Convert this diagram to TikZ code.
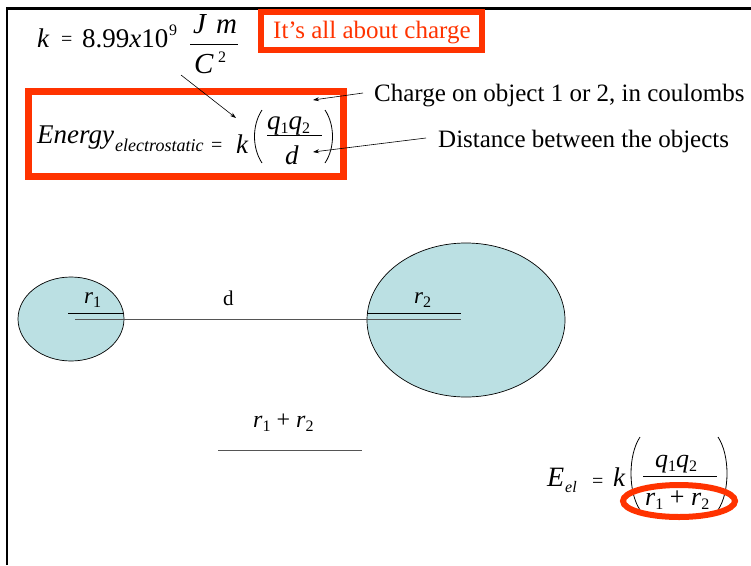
\documentclass[tikz,border=0pt]{standalone}
\usepackage{fontspec}
\setmainfont{Liberation Serif}
\usetikzlibrary{arrows.meta,shapes.geometric}
\definecolor{hot}{HTML}{FF3300}
\definecolor{ball}{HTML}{BBE0E3}
\definecolor{rule}{HTML}{555555}
\newcommand{\sz}[1]{\fontsize{#1}{#1}\selectfont}
\newcommand{\sbs}[2]{\raisebox{-#1pt}{\sz{16}\upshape #2}}
\tikzset{
  t/.style={inner sep=0pt, anchor=base west},
  eq/.style={t, font=\sz{27}\itshape},
  lab/.style={t, font=\sz{25}},
  hotbox/.style={draw=hot, line width=6.5pt},
  ptr/.style={-{Stealth[length=6pt,width=4pt]}, line width=0.6pt},
  paren/.style={line width=0.8pt},
  ballst/.style={ellipse, draw, line width=0.7pt, fill=ball, inner sep=0pt},
}
\begin{document}
\begin{tikzpicture}[x=1pt,y=-1pt]
\useasboundingbox (0,0) rectangle (751,565);
% frame
\draw[line width=2.5pt] (7,565) -- (7,8.5) -- (751,8.5);
% k constant
\node[eq] (k0) at (37,47) {k};
\node[t, font=\sz{20}] (eq0) at (61,45) {=};
\node[t, font=\sz{27}] (num) at (82,47) {8.99\textit{x}10};
\node[t, font=\sz{16}] (e9) at (169,35) {9};
\node[eq, font=\sz{29}\itshape] (jm) at (193,33) {J\hspace{10pt}m};
\draw[line width=0.8pt] (190,44) -- (238,44);
\node[eq, font=\sz{29}\itshape] (cc) at (194,73) {C};
\node[t, font=\sz{16}] (c2) at (218,62) {2};
% title box
\node[lab, text=hot] (title) at (273,38) {It’s all about charge};
\draw[draw=hot, line width=5.5pt] (261,12) rectangle (482,50);
% energy formula
\draw[hotbox] (28.5,91.5) rectangle (343.5,176.5);
\node[eq] (en) at (37,143) {Energy};
\node[t, font=\sz{18}\itshape] (sub) at (115,151) {electrostatic};
\node[t, font=\sz{20}] (eq1) at (211,151) {=};
\node[eq] (k1) at (236,153) {k};
\node[eq] (q12) at (267,129) {q\sbs{4}{1}q\sbs{4}{2}};
\draw[line width=0.8pt] (267,135) -- (322,135);
\node[eq] (dd) at (285,164) {d};
\draw[paren] (262,110) .. controls (252,125) and (252,148) .. (262,163);
\draw[paren] (325,110) .. controls (335,125) and (335,148) .. (325,163);
% annotations
\node[lab] (chg) at (374,101) {Charge on object 1 or 2, in coulombs};
\node[lab] (dist) at (438,147) {Distance between the objects};
\coordinate (a1s) at (181,75);
\coordinate (a1e) at (236,118);
\coordinate (a2s) at (363,93);
\coordinate (a2e) at (313,100);
\coordinate (a3s) at (426,138);
\coordinate (a3e) at (313,152);
\draw[ptr] (a1s) -- (a1e);
\draw[ptr] (a2s) -- (a2e);
\draw[ptr] (a3s) -- (a3e);
% objects
\node[ballst, minimum width=106pt, minimum height=84pt] (b1) at (71,319) {};
\node[ballst, minimum width=198pt, minimum height=154pt] (b2) at (466,320) {};
\draw[line width=0.8pt, draw=rule] (75,319) -- (461,319);
\draw[line width=0.8pt] (68,313) -- (124,313);
\draw[line width=0.8pt] (367,313) -- (461,313);
\node[t, font=\sz{23}\itshape] (r1) at (84,303) {r\sbs{4}{1}};
\node[t, font=\sz{21}] (dl) at (223,305) {d};
\node[t, font=\sz{23}\itshape] (r2) at (414,303) {r\sbs{4}{2}};
% r1 + r2
\node[t, font=\sz{24}] (sum) at (253,427) {\textit{r}\sbs{4}{1} + \textit{r}\sbs{4}{2}};
\draw[line width=0.8pt, draw=rule] (218,450) -- (362,450);
% final formula
\node[t, font=\sz{28}\itshape] (E) at (547,486) {E};
\node[t, font=\sz{16}\itshape] (el) at (565,492) {el};
\node[t, font=\sz{20}] (eq2) at (592,487) {=};
\node[eq] (k2) at (613,486) {k};
\node[t, font=\sz{26}\itshape] (q12b) at (655,467) {q\sbs{4}{1}q\sbs{4}{2}};
\draw[line width=0.8pt] (643,476) -- (717,476);
\node[t, font=\sz{26}] (den) at (645,505) {\textit{r}\sbs{4}{1} + \textit{r}\sbs{4}{2}};
\draw[paren] (640,437) .. controls (628,455) and (628,492) .. (640,510);
\draw[paren] (718,437) .. controls (730,455) and (730,492) .. (718,510);
\node[draw=hot, line width=6pt, ellipse, minimum width=112pt, minimum height=32pt, inner sep=0pt] (ring) at (679,501) {};
\end{tikzpicture}
\end{document}
